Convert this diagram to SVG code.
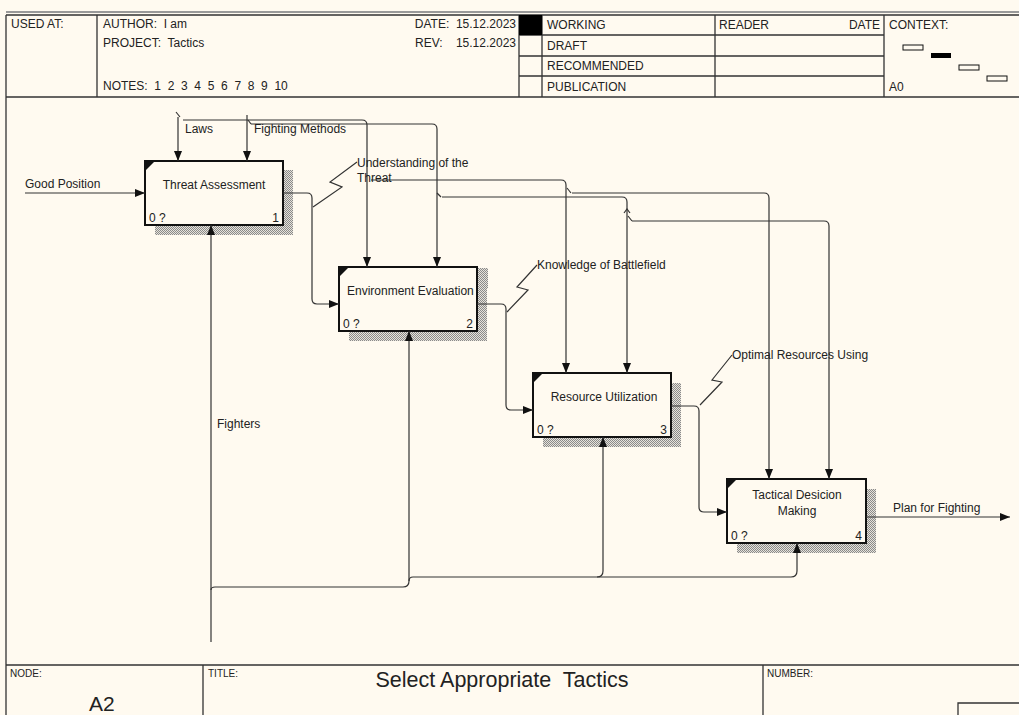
<svg xmlns="http://www.w3.org/2000/svg" width="1019" height="715" viewBox="0 0 1019 715">
<defs>
<pattern id="hatch" width="2" height="2" patternUnits="userSpaceOnUse">
<rect width="2" height="2" fill="#e6e2da"/>
<rect width="1" height="1" fill="#8a8a8a"/>
<rect x="1" y="1" width="1" height="1" fill="#8a8a8a"/>
</pattern>
<marker id="ah" viewBox="0 0 10 8" refX="10" refY="4" markerWidth="10" markerHeight="8" markerUnits="userSpaceOnUse" orient="auto">
<path d="M0,0 L10,4 L0,8 Z" fill="#111"/>
</marker>
</defs>
<style>
text{font-family:"Liberation Sans",Arial,sans-serif;fill:#222;white-space:pre;}
.h{font-size:12px;}
.l{font-size:12px;}
.frame{fill:none;stroke:#333;stroke-width:1.3;}
.box{fill:#fffaf0;stroke:#111;stroke-width:2;}
.conn path{fill:none;stroke:#333;stroke-width:1.2;}
.arr{marker-end:url(#ah);}
</style>
<rect width="1019" height="715" fill="#fffaf0"/>
<!-- frame / header -->
<g id="header" xml:space="preserve">
<line x1="6" y1="12" x2="1019" y2="12" stroke="#999" stroke-width="2"/>
<path class="frame" d="M6,15 H1019 M6,15 V715 M6,97 H1019 M97,15 V97 M519,15 V97 M542,15 V97 M715,15 V97 M884,15 V97 M519,35 H884 M519,56 H884 M519,76 H884"/>
<rect x="519" y="15" width="23" height="20" fill="#000"/>
<text class="h" x="11" y="28">USED AT:</text>
<text class="h" x="103" y="28">AUTHOR:  I am</text>
<text class="h" x="103" y="47">PROJECT:  Tactics</text>
<text class="h" x="103" y="90">NOTES:  1  2  3  4  5  6  7  8  9  10</text>
<text class="h" x="516" y="28" text-anchor="end">DATE:  15.12.2023</text>
<text class="h" x="516" y="47" text-anchor="end">REV:    15.12.2023</text>
<text class="h" x="547" y="29">WORKING</text>
<text class="h" x="547" y="50">DRAFT</text>
<text class="h" x="547" y="70">RECOMMENDED</text>
<text class="h" x="547" y="91">PUBLICATION</text>
<text class="h" x="719" y="29">READER</text>
<text class="h" x="880" y="29" text-anchor="end">DATE</text>
<text class="h" x="889" y="29">CONTEXT:</text>
<text class="h" x="889" y="91">A0</text>
<rect x="903" y="45" width="20" height="5" fill="none" stroke="#111" stroke-width="1"/>
<rect x="931" y="53" width="20" height="5" fill="#000"/>
<rect x="959" y="65" width="20" height="5" fill="none" stroke="#111" stroke-width="1"/>
<rect x="987" y="76" width="20" height="5" fill="none" stroke="#111" stroke-width="1"/>
</g>
<g id="footer" xml:space="preserve">
<path class="frame" d="M6,665 H1019 M203,665 V715 M763,665 V715 M958,715 V703 H1019"/>
<text x="10" y="677" style="font-size:10px">NODE:</text>
<text x="89" y="711" style="font-size:21px">A2</text>
<text x="208" y="677" style="font-size:10px">TITLE:</text>
<text x="502" y="687" text-anchor="middle" style="font-size:21.5px">Select Appropriate  Tactics</text>
<text x="767" y="677" style="font-size:10px">NUMBER:</text>
</g>
<!-- nodes -->
<g id="node1">
<path d="M283,170 H293 V235 H155 V225 H283 Z" fill="url(#hatch)"/>
<rect class="box" x="145" y="161" width="138" height="64"/>
<path d="M146,162 H154 L146,170 Z" fill="#111"/>
<text class="l" x="214" y="189" text-anchor="middle">Threat Assessment</text>
<text class="l" x="149" y="222">0 ?</text>
<text class="l" x="279" y="222" text-anchor="end">1</text>
</g>
<g id="node2">
<path d="M477,277 H487 V341 H349 V331 H477 Z" fill="url(#hatch)"/>
<rect class="box" x="339" y="267" width="138" height="64"/>
<path d="M340,268 H348 L340,276 Z" fill="#111"/>
<text class="l" x="347" y="295">Environment Evaluation</text>
<rect x="478" y="268" width="10" height="20" fill="url(#hatch)"/>
<line x1="477" y1="266" x2="477" y2="332" stroke="#111" stroke-width="2"/>
<text class="l" x="343" y="328">0 ?</text>
<text class="l" x="473" y="328" text-anchor="end">2</text>
</g>
<g id="node3">
<path d="M671,383 H681 V447 H543 V437 H671 Z" fill="url(#hatch)"/>
<rect class="box" x="533" y="373" width="138" height="64"/>
<path d="M534,374 H542 L534,382 Z" fill="#111"/>
<text class="l" x="604" y="401" text-anchor="middle">Resource Utilization</text>
<text class="l" x="537" y="434">0 ?</text>
<text class="l" x="667" y="434" text-anchor="end">3</text>
</g>
<g id="node4">
<path d="M866,489 H876 V553 H737 V543 H866 Z" fill="url(#hatch)"/>
<rect class="box" x="727" y="479" width="139" height="64"/>
<path d="M728,480 H736 L728,488 Z" fill="#111"/>
<text class="l" x="797" y="499" text-anchor="middle">Tactical Desicion</text>
<text class="l" x="797" y="515" text-anchor="middle">Making</text>
<text class="l" x="731" y="540">0 ?</text>
<text class="l" x="862" y="540" text-anchor="end">4</text>
</g>
<!-- connectors -->
<g id="connectors" class="conn">
<path class="arr" d="M25,193 H145"/>
<path d="M176,112 L180,117"/>
<path class="arr" d="M178,117 V161"/>
<path class="arr" d="M247,115 V161"/>
<path class="arr" d="M183,120 H362 Q367,120 367,125 V267"/>
<path d="M248,120 L251,124"/>
<path class="arr" d="M251,124 H432 Q437,124 437,129 V267"/>
<path class="arr" d="M371,180 H561 Q566,180 566,185 V373"/>
<path d="M437,193 L441,197"/>
<path class="arr" d="M442,197 H622 Q627,197 627,202 V373"/>
<path d="M567,188 L571,193"/>
<path class="arr" d="M572,193 H764 Q769,193 769,198 V479"/>
<path d="M624,213 L627,209 L630,213 M628,216 L632,221"/>
<path class="arr" d="M632,221 H824 Q829,221 829,226 V479"/>
<path class="arr" d="M283,193 H307 Q312,193 312,198 V299 Q312,304 317,304 H339"/>
<path class="arr" d="M477,304 H501 Q506,304 506,309 V405 Q506,410 511,410 H533"/>
<path class="arr" d="M671,406 H694 Q699,406 699,411 V507 Q699,512 704,512 H727"/>
<path class="arr" d="M866,517 H1010"/>
<path class="arr" d="M211,642 V225"/>
<path class="arr" d="M211,590 Q211,587 215,587 H403 Q409,587 409,581 V331"/>
<path class="arr" d="M409,581 Q409,577 413,577 H791 Q797,577 797,571 V543"/>
<path class="arr" d="M597,577 Q603,577 603,571 V437"/>
<path d="M313,207 L342,187 L330,182 L357,162"/>
<path d="M507,312 L528,290 L517,287 L537,265"/>
<path d="M700,405 L722,382 L712,380 L732,355"/>
</g>
<g id="labels">
<text class="l" x="185" y="133">Laws</text>
<text class="l" x="254" y="133">Fighting Methods</text>
<text class="l" x="25" y="188">Good Position</text>
<text class="l" x="357" y="167">Understanding of the</text>
<text class="l" x="357" y="182">Threat</text>
<text class="l" x="537" y="269">Knowledge of Battlefield</text>
<text class="l" x="732" y="359">Optimal Resources Using</text>
<text class="l" x="217" y="428">Fighters</text>
<text class="l" x="893" y="512">Plan for Fighting</text>
</g>
</svg>
